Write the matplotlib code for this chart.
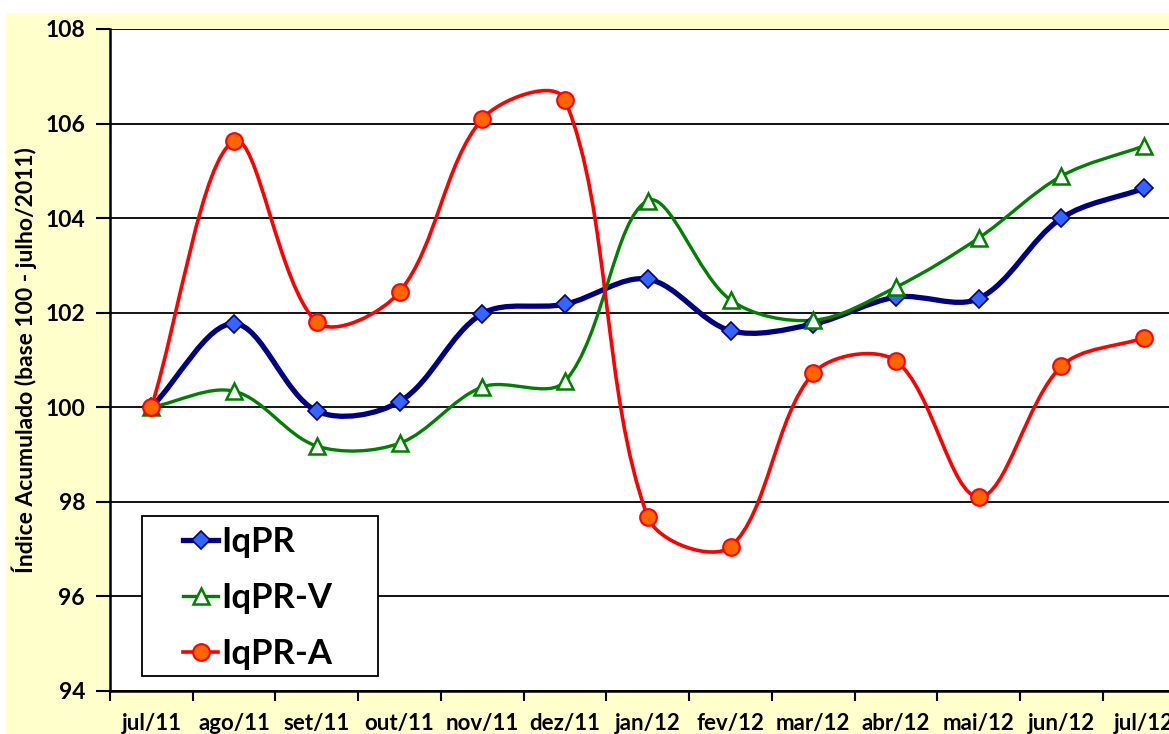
import numpy as np
import matplotlib
matplotlib.use("Agg")
import matplotlib.pyplot as plt
from matplotlib.path import Path
from matplotlib.patches import PathPatch, Rectangle
from matplotlib.lines import Line2D

plt.rcParams['font.family'] = ['Lato', 'DejaVu Sans']
plt.rcParams['font.weight'] = 'bold'
plt.rcParams['axes.labelweight'] = 'bold'

# categories and series
meses = ['jul/11', 'ago/11', 'set/11', 'out/11', 'nov/11', 'dez/11', 'jan/12',
         'fev/12', 'mar/12', 'abr/12', 'mai/12', 'jun/12', 'jul/12']
iqpr = [100.0, 101.77, 99.92, 100.12, 101.98, 102.18, 102.71,
        101.62, 101.76, 102.33, 102.30, 104.00, 104.63]
iqpr_v = [100.0, 100.34, 99.18, 99.24, 100.43, 100.55, 104.37,
          102.27, 101.84, 102.54, 103.58, 104.89, 105.53]
iqpr_a = [100.0, 105.63, 101.80, 102.44, 106.10, 106.50, 97.68,
          97.05, 100.72, 100.98, 98.10, 100.87, 101.47]

# pixel size of one x step and one y unit, used to weight the smoothing
SX, SY = 82.7, 47.3


def smooth_path(x, y):
    # excel style smoothed line: bezier arms scaled by neighbouring chord lengths
    p = np.column_stack([x, y]).astype(float)
    n = len(p)
    scr = p * [SX, SY]

    def dist(i, j):
        return np.hypot(*(scr[i] - scr[j]))

    out_arm = np.zeros_like(p)
    in_arm = np.zeros_like(p)
    for i in range(n):
        a, b = max(i - 1, 0), min(i + 1, n - 1)
        tang = p[b] - p[a]
        d0 = dist(a, i)
        d1 = dist(i, b)
        if d0 + d1 == 0:
            continue
        out_arm[i] = tang / 3.0 * d1 / (d0 + d1)
        in_arm[i] = tang / 3.0 * d0 / (d0 + d1)
    verts = [p[0]]
    codes = [Path.MOVETO]
    for i in range(n - 1):
        verts += [p[i] + out_arm[i], p[i + 1] - in_arm[i + 1], p[i + 1]]
        codes += [Path.CURVE4] * 3
    return Path(verts, codes)


fig = plt.figure(figsize=(11.69, 7.34), dpi=100)
fig.patch.set_facecolor('white')
fig.patches.append(Rectangle((6 / 1169, 0), 1, 1 - 13 / 734, transform=fig.transFigure,
                             facecolor='#FFFFCC', edgecolor='none', zorder=-10))

ax = fig.add_axes([110 / 1169, 1 - 691 / 734, 1 - 110 / 1169, (691 - 29) / 734])
ax.set_facecolor('white')
x = np.arange(len(meses))

series = [
    (iqpr, 'IqPR', '#000080', 3.8, dict(marker='D', markersize=9, markerfacecolor='#3366FF',
                                         markeredgecolor='#000080', markeredgewidth=1.2)),
    (iqpr_v, 'IqPR-V', '#008000', 2.4, dict(marker='^', markersize=12, markerfacecolor='white',
                                           markeredgecolor='#008000', markeredgewidth=1.8)),
    (iqpr_a, 'IqPR-A', '#FF0000', 2.6, dict(marker='o', markersize=12, markerfacecolor='#FF6600',
                                           markeredgecolor='#FF0000', markeredgewidth=1.5)),
]
handles = []
for z, (vals, name, col, lw, mk) in enumerate(series):
    ax.add_patch(PathPatch(smooth_path(x, vals), facecolor='none', edgecolor=col,
                           linewidth=lw, zorder=3 + z))
    ax.plot(x, vals, linestyle='none', zorder=6 + z, **mk)
    handles.append(Line2D([], [], color=col, linewidth=lw, label=name, **mk))

ax.set_yticks(np.arange(94, 109, 2))
ax.set_xticks(x)
ax.set_xticklabels(meses)
ax.set_xticks(np.arange(-0.5, 12.6, 1), minor=True)
ax.set_xlim(-0.5, 12.3)
ax.set_ylim(94, 108)
ax.tick_params(axis='x', which='major', length=0, labelsize=16, pad=16)
ax.tick_params(axis='x', which='minor', length=7, width=1.5, direction='out')
ax.tick_params(axis='y', length=10, width=1.5, labelsize=16.5, pad=8)
ax.grid(axis='y', color='black', linewidth=1.3, zorder=1)
ax.set_axisbelow(True)
for s in ['top', 'right']:
    ax.spines[s].set_visible(False)
ax.spines['left'].set_linewidth(1.8)
ax.spines['bottom'].set_linewidth(1.8)

ax.set_ylabel('Índice Acumulado (base 100 - julho/2011)', fontsize=16.5, labelpad=6)

# legend box drawn separately so the entries sit centred inside it
ax.add_patch(Rectangle((32 / 1059, 15 / 662), 236 / 1059, 160 / 662, transform=ax.transAxes,
                       facecolor='white', edgecolor='black', linewidth=1.3, zorder=10))
leg = ax.legend(handles=handles, loc='center', bbox_to_anchor=(148 / 1059, 93 / 662),
                fontsize=25, frameon=False, handlelength=1.0,
                handletextpad=0.1, borderpad=0.2, labelspacing=0.69, borderaxespad=0)
leg.set_zorder(11)
for t in leg.get_texts():
    t.set_fontweight('bold')

fig.savefig('out.png', dpi=100, facecolor=fig.get_facecolor())
